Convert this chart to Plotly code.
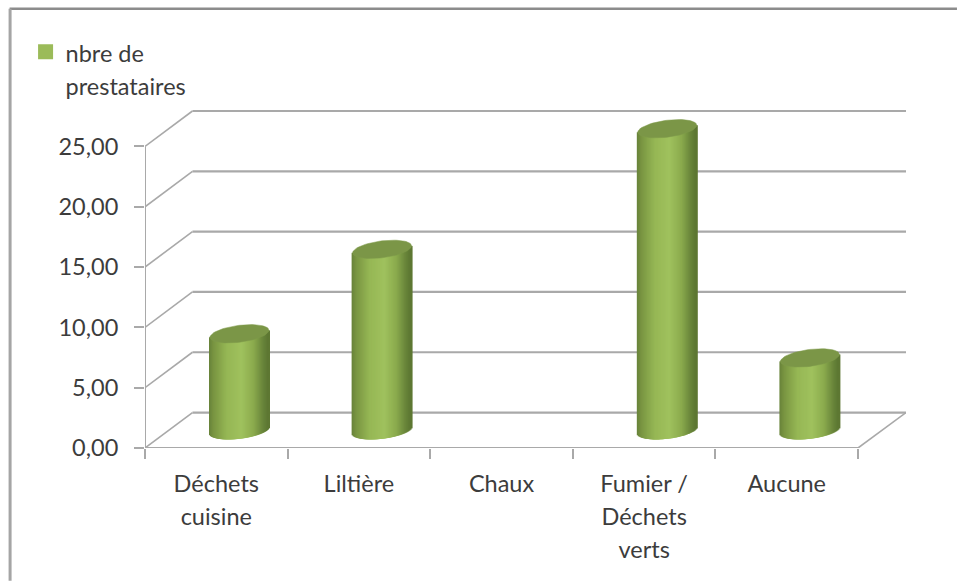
import numpy as np
import plotly.graph_objects as go

categories = ["Déchets<br>cuisine", "Liltière", "Chaux", "Fumier /<br>Déchets<br>verts", "Aucune"]
values = [8, 15, 0, 25, 6]
y_ticks = [0, 5, 10, 15, 20, 25]
y_labels = ["0,00", "5,00", "10,00", "15,00", "20,00", "25,00"]
series_name = "nbre de<br>prestataires"

W, H = 957, 581
L, R, T, B = 144.5, 906, 109.5, 448      # plot box in page pixels
FRONT_R = 858
BACK_L = 192
UX = (FRONT_R - L) / 5                   # pixels per category
UY = 12.08                               # pixels per value unit
DX = (R - FRONT_R) / UX                  # depth, in axis units
DY = (B - 412.5) / UY
x0 = -0.5
x_max = x0 + (R - L) / UX
y_max = (B - T) / UY

RX = 29.5 / UX                           # cylinder radius
RY = 8.5 / UY
TILT = 3.5 / UY
CX = (DX * UX / 2 - 0.8) / UX            # cylinder sits half way into the depth
BASE = DY / 2
GRID = "#a9a9a9"
TXT = "#3c3c3c"
FS = 23.5


def sized(t):
    return "<br>".join(f'<span style="font-size:{FS}px">{p}</span>' for p in t.split("<br>"))


stops = [(0.0, (104, 130, 58)), (0.08, (122, 150, 66)), (0.3, (150, 183, 85)), (0.55, (160, 194, 94)),
         (0.75, (140, 172, 78)), (0.92, (104, 132, 58)), (1.0, (92, 118, 50))]
N = 60
fig = go.Figure()
xv = np.arange(len(values))
vals = np.array(values, float)
shown = vals > 0
for i in range(N):
    f = (i + 0.5) / N
    c = [np.interp(f, [s[0] for s in stops], [s[1][k] for s in stops]) for k in range(3)]
    u = 2 * f - 1
    low = BASE - RY * np.sqrt(1 - u * u) + TILT * u
    top = BASE + vals + TILT * u
    fig.add_trace(go.Bar(
        x=(xv + CX + u * RX)[shown], y=(top - low)[shown], base=np.full(len(vals), low)[shown],
        width=3 / UX,
        marker=dict(color="rgb(%d,%d,%d)" % tuple(c), line_width=0),
        showlegend=False, hoverinfo="skip"))

t = np.linspace(0, 2 * np.pi, 73)
for xi, v in zip(xv, vals):
    if v > 0:
        fig.add_trace(go.Scatter(
            x=xi + CX + RX * np.cos(t), y=BASE + v + RY * np.sin(t) + TILT * np.cos(t),
            mode="lines", line=dict(color="#7f9a4b", width=0.5), fill="toself", fillcolor="#7b9647",
            showlegend=False, hoverinfo="skip"))

fig.add_trace(go.Scatter(x=[None], y=[None], mode="markers", name=sized(series_name),
                         marker=dict(symbol="square", size=15, color="#9bbb59"), hoverinfo="skip"))

shapes = []
def seg(xa, ya, xb, yb, width=1.6, color=GRID):
    shapes.append(dict(type="line", x0=xa, y0=ya, x1=xb, y1=yb, xref="x", yref="y", layer="below",
                       line=dict(color=color, width=width)))

xb = x0 + (BACK_L - L) / UX
for v in y_ticks:
    seg(x0, v, xb, v + DY, 1.6)
    seg(xb, v + DY, x_max, v + DY, 2.2)
seg(x0, 0, x0, y_ticks[-1], 2)
seg(x0, 0, x0 + len(values), 0, 2)
seg(x0 + len(values), 0, x_max, DY, 1.6)
# outer frame, top and left edges of the page
shapes.append(dict(type="line", xref="paper", yref="paper",
                   x0=(9 - L) / (R - L), x1=(W - L) / (R - L), y0=(B - 8) / (B - T), y1=(B - 8) / (B - T),
                   line=dict(color="#8c8c8c", width=2.5)))
shapes.append(dict(type="line", xref="paper", yref="paper",
                   x0=(9.5 - L) / (R - L), x1=(9.5 - L) / (R - L), y0=(B - 8) / (B - T), y1=(B - H) / (B - T),
                   line=dict(color="#a5a5a5", width=3)))

fig.update_layout(
    width=W, height=H, autosize=False,
    margin=dict(l=L, r=W - R, t=T, b=H - B, pad=0),
    paper_bgcolor="white", plot_bgcolor="rgba(0,0,0,0)",
    barmode="overlay", shapes=shapes,
    font=dict(family="Lato, Carlito, sans-serif", color=TXT, size=FS),
    xaxis=dict(range=[x0, x_max], showgrid=False, zeroline=False, showline=False,
               tickmode="array", tickvals=list(xv), ticktext=[sized(c) for c in categories],
               ticks="", tickangle=0, tickfont=dict(size=25.4, color=TXT), ticklabelstandoff=18,
               minor=dict(tickmode="array", tickvals=[x0 + i for i in range(len(values) + 1)],
                          ticks="outside", ticklen=10, tickwidth=2, tickcolor=GRID, showgrid=False)),
    yaxis=dict(range=[0, y_max], showgrid=False, zeroline=False, showline=False,
               tickmode="array", tickvals=y_ticks, ticktext=y_labels,
               ticks="outside", ticklen=10, tickwidth=2, tickcolor=GRID,
               tickfont=dict(size=FS, color=TXT), ticklabelstandoff=11),
    legend=dict(x=(36 - L) / (R - L), xanchor="left", y=(B - 28) / (B - T), yanchor="top",
                valign="top", bgcolor="rgba(0,0,0,0)", font=dict(size=25.4, color=TXT),
                itemwidth=30, indentation=-11, itemclick=False, itemdoubleclick=False),
    showlegend=True,
)
fig.write_html("out.html", post_script="document.body.style.margin='0';",
               config=dict(displayModeBar=False))
